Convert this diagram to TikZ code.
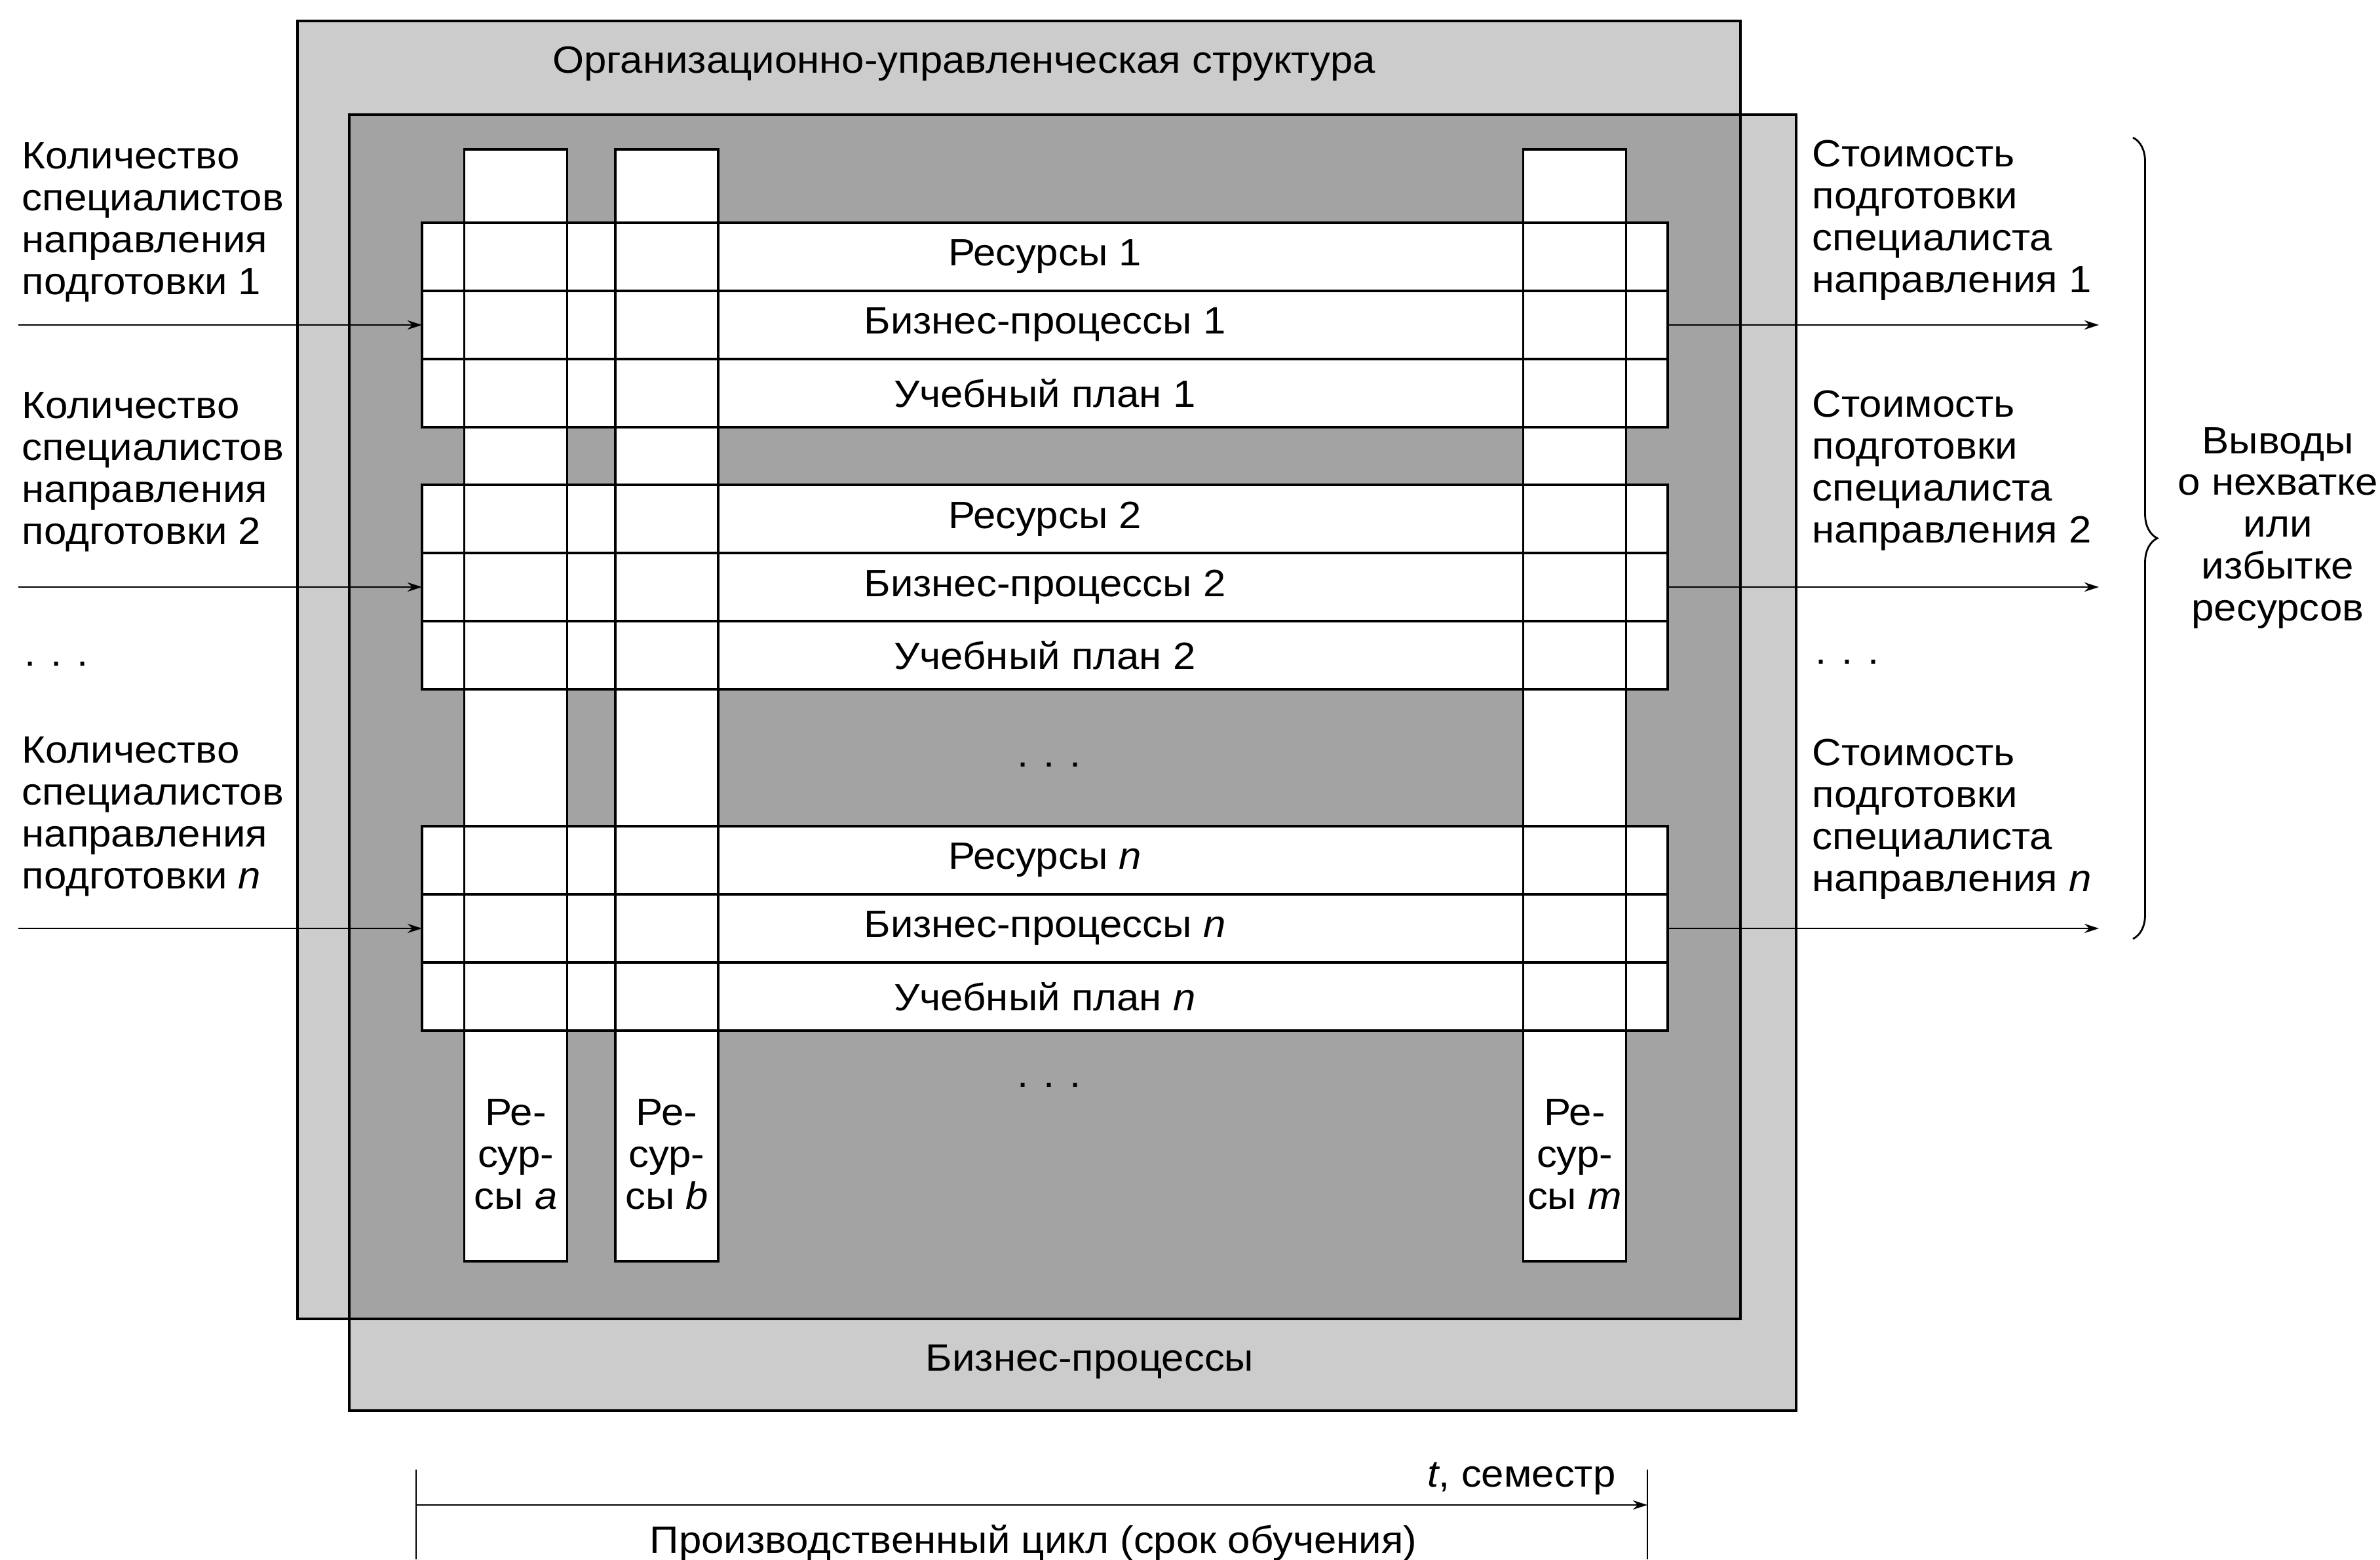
\documentclass[tikz,border=0pt]{standalone}
\usepackage{fontspec}
\setmainfont{Liberation Sans}[FakeStretch=1.065]
\usetikzlibrary{positioning,decorations.pathreplacing,arrows.meta}

\begin{document}
\begin{tikzpicture}[>={Stealth[length=2.2mm, width=1.4mm]},
    font=\fontsize{16.5}{18.2}\selectfont,
    frame/.style={draw, line width=0.9pt, fill=black, fill opacity=0.2},
    band/.style={draw, line width=0.9pt, fill=white, minimum width=19.01cm,
        minimum height=1.04cm, inner sep=0pt, outer sep=0pt},
    pillar/.style={draw, line width=0.9pt, fill=white, minimum width=1.57cm,
        minimum height=16.97cm, inner sep=0pt, outer sep=0pt},
    txt/.style={align=left, anchor=west, inner sep=0pt},
    flow/.style={->, line width=0.8pt}]
    \useasboundingbox (0,0) rectangle (36.32,23.80);

    % Two overlapping frames
    \draw[frame] (4.54,3.67) rectangle (26.56,23.48);
    \draw[frame] (5.33,2.27) rectangle (27.41,22.05);
    \node (orgtitle) at (14.71,22.83) {Организационно-управленческая структура};
    \node (bptitle) at (16.63,3.01) {Бизнес-процессы};

    % Resource columns
    \node[pillar] (cola) at (7.87,13.035) {};
    \node[pillar] (colb) at (10.175,13.035) {};
    \node[pillar] (colm) at (24.03,13.035) {};

    % Bands of each direction
    \node[band] (res1) at (15.945,19.88) {Ресурсы 1};
    \node[band, below=0pt of res1] (bp1) {Бизнес-процессы 1};
    \node[band, below=0pt of bp1] (plan1) {Учебный план 1};

    \node[band] (res2) at (15.945,15.88) {Ресурсы 2};
    \node[band, below=0pt of res2] (bp2) {Бизнес-процессы 2};
    \node[band, below=0pt of bp2] (plan2) {Учебный план 2};

    \node[band] (resn) at (15.945,10.67) {Ресурсы \textit{n}};
    \node[band, below=0pt of resn] (bpn) {Бизнес-процессы \textit{n}};
    \node[band, below=0pt of bpn] (plann) {Учебный план \textit{n}};

    % Column borders over the bands
    \foreach \c in {cola,colb,colm}
        \draw[line width=0.9pt] (\c.north west) rectangle (\c.south east);

    \node[inner sep=0pt] (midgap) at (16.01,12.13) {. . .};
    \node[inner sep=0pt] (lowgap) at (16.01,7.24) {. . .};

    % Column labels
    \coordinate (lowtxt) at (0,6.18);
    \node[align=center] (capa) at (cola |- lowtxt) {Ре-\\сур-\\сы \textit{a}};
    \node[align=center] (capb) at (colb |- lowtxt) {Ре-\\сур-\\сы \textit{b}};
    \node[align=center] (capm) at (colm |- lowtxt) {Ре-\\сур-\\сы \textit{m}};

    % Inputs and outputs
    \node[txt] (need1) at (0.33,20.41) {Количество\\специалистов\\направления\\подготовки 1};
    \node[txt] (need2) at (0.33,16.60) {Количество\\специалистов\\направления\\подготовки 2};
    \node[txt] (needn) at (0.33,11.34) {Количество\\специалистов\\направления\\подготовки \textit{n}};
    \node[txt] (needgap) at (0.37,13.67) {. . .};

    \node[txt] (cost1) at (27.65,20.44) {Стоимость\\подготовки\\специалиста\\направления 1};
    \node[txt] (cost2) at (27.65,16.62) {Стоимость\\подготовки\\специалиста\\направления 2};
    \node[txt] (costn) at (27.65,11.30) {Стоимость\\подготовки\\специалиста\\направления \textit{n}};
    \node[txt] (costgap) at (27.70,13.70) {. . .};

    \foreach \i in {1,2,n} {
        \coordinate (src\i) at ([xshift=-6.16cm]bp\i.west);
        \coordinate (dst\i) at ([xshift=6.58cm]bp\i.east);
        \draw[flow] (src\i) -- (bp\i.west);
        \draw[flow] (bp\i.east) -- (dst\i);
    }

    % Conclusions
    \coordinate (brtop) at (32.55,21.70);
    \coordinate (brbot) at (32.55,9.47);
    \draw[decorate, decoration={brace, amplitude=0.37cm}, line width=0.8pt] (brtop) -- (brbot);
    \node[align=center] (verdict) at (34.76,15.74) {Выводы\\о нехватке\\или\\избытке\\ресурсов};

    % Time axis
    \coordinate (t0) at (6.35,0.83);
    \coordinate (t1) at (25.14,0.83);
    \draw[flow] (t0) -- (t1);
    \draw[line width=0.8pt] (6.35,1.37) -- (6.35,0);
    \draw[line width=0.8pt] (25.14,1.37) -- (25.14,0);
    \node[anchor=east] (tlabel) at (24.78,1.23) {\textit{t}, семестр};
    \node[anchor=base] (cycle) at (15.77,0.10) {Производственный цикл (срок обучения)};
\end{tikzpicture}
\end{document}
